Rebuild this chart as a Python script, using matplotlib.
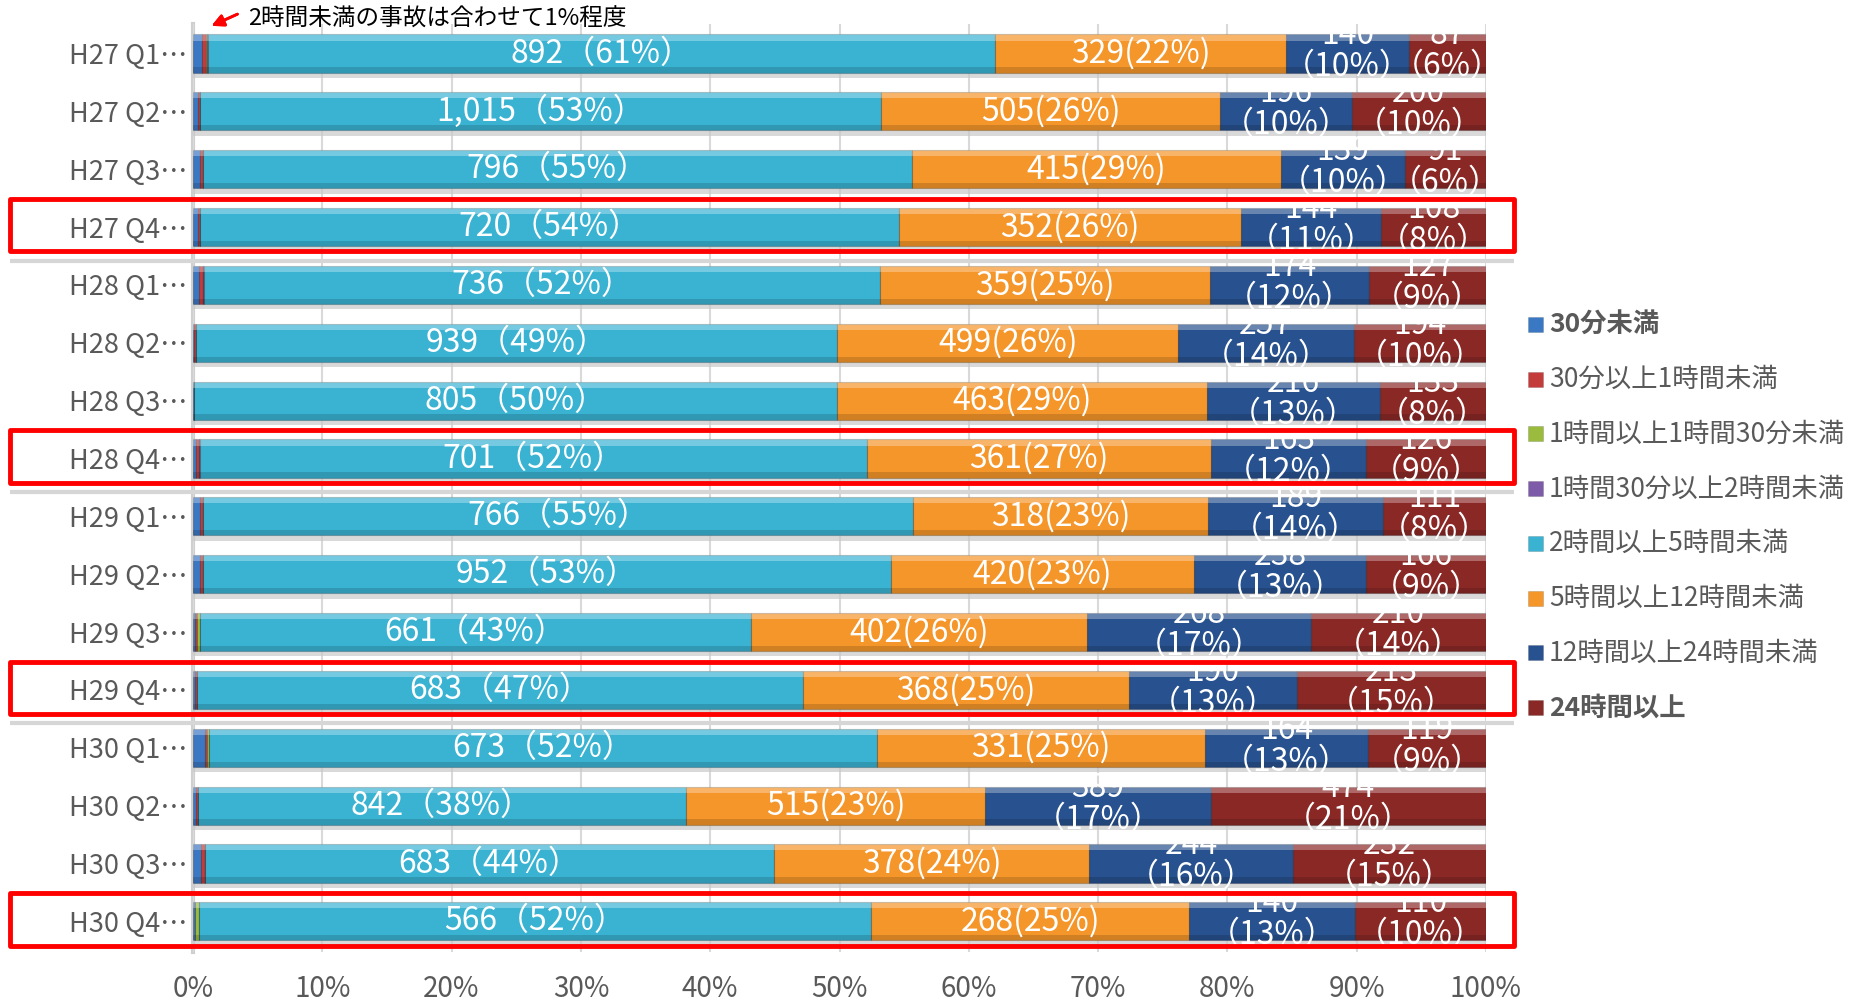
import matplotlib as mpl
mpl.use("Agg")
import matplotlib.pyplot as plt
from matplotlib.patches import Rectangle
import numpy as np

# ## Data (counts per quarter)
ROWS = ["H27 Q1…", "H27 Q2…", "H27 Q3…", "H27 Q4…",
        "H28 Q1…", "H28 Q2…", "H28 Q3…", "H28 Q4…",
        "H29 Q1…", "H29 Q2…", "H29 Q3…", "H29 Q4…",
        "H30 Q1…", "H30 Q2…", "H30 Q3…", "H30 Q4…"]
CATEGORIES = ["30分未満", "30分以上1時間未満", "1時間以上1時間30分未満", "1時間30分以上2時間未満",
              "2時間以上5時間未満", "5時間以上12時間未満", "12時間以上24時間未満", "24時間以上"]
under_30m = [10, 8, 8, 5, 7, 1, 1, 3, 8, 10, 2, 2, 12, 5, 10, 2]
m30_to_1h = [5, 2, 3, 2, 4, 4, 0, 3, 3, 4, 3, 3, 2, 3, 4, 0]
h1_to_1h30 = [1, 0, 0, 0, 0, 0, 0, 0, 0, 0, 3, 0, 2, 0, 0, 3]
h1h30_to_2h = [1, 0, 0, 0, 1, 0, 0, 1, 0, 0, 0, 0, 0, 0, 0, 0]
h2_to_5 = [892, 1015, 796, 720, 736, 939, 805, 701, 766, 952, 661, 683, 673, 842, 683, 566]
h5_to_12 = [329, 505, 415, 352, 359, 499, 463, 361, 318, 420, 402, 368, 331, 515, 378, 268]
h12_to_24 = [140, 196, 139, 144, 174, 257, 216, 163, 189, 238, 268, 190, 164, 389, 244, 140]
h24_plus = [87, 200, 91, 108, 127, 194, 133, 126, 111, 166, 210, 213, 119, 474, 232, 110]

# percentages as printed in the labels
pct_2_5 = [61, 53, 55, 54, 52, 49, 50, 52, 55, 53, 43, 47, 52, 38, 44, 52]
pct_5_12 = [22, 26, 29, 26, 25, 26, 29, 27, 23, 23, 26, 25, 25, 23, 24, 25]
pct_12_24 = [10, 10, 10, 11, 12, 14, 13, 12, 14, 13, 17, 13, 13, 17, 16, 13]
pct_24 = [6, 10, 6, 8, 9, 10, 8, 9, 8, 9, 14, 15, 9, 21, 15, 10]

HIGHLIGHT_ROWS = [3, 7, 11, 15]
XTICKS = [0, 10, 20, 30, 40, 50, 60, 70, 80, 90, 100]

COLORS = ["#3B78C4", "#C43C3A", "#9BBB3F", "#7E5BA8",
          "#3AB3D3", "#F5962A", "#27518F", "#8A2826"]
NUM_FONT = ["Noto Sans CJK JP", "DejaVu Sans"]
JP_FONT = ["Noto Sans CJK JP", "DejaVu Sans"]
GRAY = "#595959"


def main():
    series = [under_30m, m30_to_1h, h1_to_1h30, h1h30_to_2h, h2_to_5, h5_to_12, h12_to_24, h24_plus]
    data = np.array(series, dtype=float)
    shares = data / data.sum(axis=0)
    y = np.arange(len(ROWS))
    bar_h = 0.66

    W, H = 1868, 1006
    fig = plt.figure(figsize=(W / 100, H / 100), dpi=100)
    ax = fig.add_axes([193 / W, 1 - 952 / H, 1293 / W, 928 / H])

    # soft shadow under each bar
    ax.barh(y + 0.09, 1.0, height=bar_h, color="#c9c9c9", alpha=0.7, zorder=1, linewidth=0)

    left = np.zeros(len(ROWS))
    for vals, color in zip(shares, COLORS):
        ax.barh(y, vals, left=left, height=bar_h, color=color, edgecolor="#00000040",
                linewidth=0.8, zorder=2)
        # bevel: light top strip, dark bottom strip
        for yi, l, w in zip(y, left, vals):
            if w <= 0:
                continue
            ax.add_patch(Rectangle((l, yi - bar_h / 2), w, bar_h * 0.16, color="white",
                                   alpha=0.3, lw=0, zorder=3))
            ax.add_patch(Rectangle((l, yi + bar_h / 2 - bar_h * 0.14), w, bar_h * 0.14, color="black",
                                   alpha=0.15, lw=0, zorder=3))
        left = left + vals

    starts = np.vstack([np.zeros(len(ROWS)), np.cumsum(shares, axis=0)[:-1]])

    # data labels
    for i in y:
        x = starts[4, i] + shares[4, i] / 2
        ax.text(x, i, f"{h2_to_5[i]:,}（{pct_2_5[i]}%）", ha="center", va="center", color="white",
                fontsize=23, family=NUM_FONT, zorder=5)
        x = starts[5, i] + shares[5, i] / 2
        ax.text(x, i, f"{h5_to_12[i]}({pct_5_12[i]}%)", ha="center", va="center", color="white",
                fontsize=23, family=NUM_FONT, zorder=5)
        for k, vals, pcts in [(6, h12_to_24, pct_12_24), (7, h24_plus, pct_24)]:
            x = starts[k, i] + shares[k, i] / 2
            ax.annotate(f"{vals[i]}", (x, i), xytext=(0, 13), textcoords="offset points",
                        ha="center", va="center", color="white", fontsize=23, family=NUM_FONT, zorder=5)
            ax.annotate(f"（{pcts[i]}%）", (x, i), xytext=(0, -10), textcoords="offset points",
                        ha="center", va="center", color="white", fontsize=23, family=NUM_FONT, zorder=5)

    ax.set_xlim(0, 1)
    ax.set_ylim(15.53, -0.51)
    ax.set_xticks([t / 100 for t in XTICKS])
    ax.set_xticklabels([f"{t}%" for t in XTICKS], fontsize=20, color=GRAY, family=NUM_FONT)
    ax.set_yticks(y)
    ax.set_yticklabels(ROWS, fontsize=19.5, color=GRAY, family=NUM_FONT)
    ax.tick_params(axis="x", length=0, pad=16)
    ax.tick_params(axis="y", length=0, pad=4)
    ax.grid(axis="x", color="#d9d9d9", linewidth=1.5, zorder=0)
    ax.set_axisbelow(True)
    for s in ["top", "right", "bottom"]:
        ax.spines[s].set_visible(False)
    ax.spines["left"].set_color("#cfcfcf")
    ax.spines["left"].set_linewidth(3)
    ax.spines["left"].set_zorder(0.5)

    # red boxes around Q4 rows and grey separators
    x0, x1 = -0.1415, 1.022
    for r in HIGHLIGHT_ROWS:
        ax.add_patch(Rectangle((x0, r - 0.49), x1 - x0, 0.91, fill=False, edgecolor="#ff0000",
                               linewidth=3.5, joinstyle="round", clip_on=False, zorder=10))
        if r != 15:
            ax.plot([x0, x1], [r + 0.58, r + 0.58], color="#d6d6d6", linewidth=3,
                    clip_on=False, zorder=1, solid_capstyle="butt")

    # legend drawn by hand to match layout
    for k, (name, color) in enumerate(zip(CATEGORIES, COLORS)):
        yc = 325 + k * 54.7
        fig.add_artist(Rectangle((1528 / W, 1 - (yc + 7) / H), 15 / W, 15 / H, facecolor=color,
                                 edgecolor="#00000030", linewidth=0.5))
        bold = k in (0, 7)
        fig.text(1549 / W, 1 - yc / H, name, ha="left", va="center", fontsize=19, color=GRAY,
                 family=JP_FONT, fontweight="bold" if bold else "normal")

    # note with arrow
    fig.add_artist(plt.annotate("", xy=(209 / W, 1 - 27 / H), xytext=(240 / W, 1 - 13 / H),
                                xycoords="figure fraction", textcoords="figure fraction",
                                arrowprops=dict(arrowstyle="-|>", color="red", lw=2, mutation_scale=18)))
    fig.text(248 / W, 1 - 19 / H, "2時間未満の事故は合わせて1%程度", ha="left", va="center",
             fontsize=17, color="black", family=JP_FONT)

    fig.savefig("out.png", dpi=100)
    plt.close(fig)


if __name__ == "__main__":
    main()
